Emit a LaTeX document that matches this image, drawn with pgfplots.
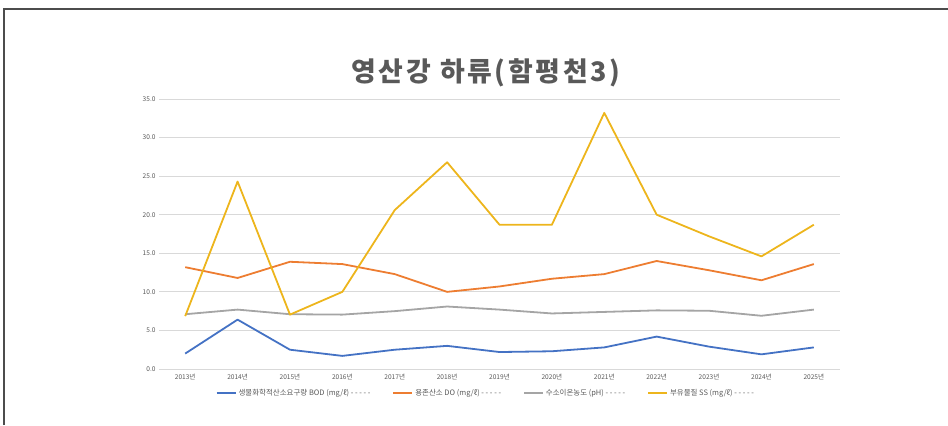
\documentclass[border=0pt]{standalone}
\usepackage{fontspec}
\setmainfont{Noto Sans CJK KR}
\usepackage{pgfplots}
\pgfplotsset{compat=1.18}
\definecolor{cBOD}{HTML}{4472C4}
\definecolor{cDO}{HTML}{ED7D31}
\definecolor{cPH}{HTML}{A5A5A5}
\definecolor{cSS}{HTML}{EDB51C}
\definecolor{titlegray}{HTML}{595959}
\definecolor{labelgray}{HTML}{595959}
\definecolor{gridgray}{HTML}{D9D9D9}
\begin{document}
\begin{tikzpicture}[x=1bp,y=1bp]
\path[use as bounding box] (0,0) rectangle (948,425);
\draw[line width=1.4bp, color=black!70] (4,0) -- (4,416) -- (948,416);
\node[font=\fontsize{27}{31}\selectfont\bfseries\addfontfeature{LetterSpace=10}, text=titlegray] at (486,352) {영산강 하류(함평천3)};
\begin{axis}[
  at={(159bp,56bp)}, anchor=south west,
  scale only axis, width=681bp, height=270bp,
  xmin=-0.5, xmax=12.5, ymin=0, ymax=35,
  ytick={0,5,10,15,20,25,30,35},
  xtick={0,...,12},
  xticklabels={2013년,2014년,2015년,2016년,2017년,2018년,2019년,2020년,2021년,2022년,2023년,2024년,2025년},
  axis line style={draw=none},
  tick style={draw=none},
  ymajorgrids,
  grid style={line width=0.8bp, color=gridgray},
  tick label style={font=\fontsize{6.6}{7.5}\selectfont, text=labelgray},
  yticklabel style={/pgf/number format/.cd, fixed, fixed zerofill, precision=1, assume math mode=true},
  xticklabel style={yshift=-2bp},
  legend columns=4,
  legend style={at={(0.48,-0.089)}, anchor=center, draw=none, fill=none,
    font=\fontsize{7.5}{8.5}\selectfont, text=labelgray,
    /tikz/every even column/.append style={column sep=20bp}},
  legend image code/.code={\draw[#1] (0bp,0bp) -- (19bp,0bp);},
  every axis plot/.append style={line width=1.8bp, line join=round},
]
\addplot[color=cBOD, mark=none] coordinates {
(0,2.0) (1,6.4) (2,2.5) (3,1.7) (4,2.5) (5,3.0) (6,2.2) (7,2.3) (8,2.8) (9,4.2) (10,2.9) (11,1.9) (12,2.8)};
\addlegendentry{생물화학적산소요구량 BOD (mg/ℓ) - - - - -}
\addplot[color=cDO, mark=none] coordinates {
(0,13.2) (1,11.8) (2,13.9) (3,13.6) (4,12.3) (5,10.0) (6,10.7) (7,11.7) (8,12.3) (9,14.0) (10,12.8) (11,11.5) (12,13.6)};
\addlegendentry{용존산소 DO (mg/ℓ) - - - - -}
\addplot[color=cPH, mark=none] coordinates {
(0,7.1) (1,7.7) (2,7.1) (3,7.05) (4,7.5) (5,8.1) (6,7.7) (7,7.2) (8,7.4) (9,7.6) (10,7.55) (11,6.9) (12,7.7)};
\addlegendentry{수소이온농도 (pH) - - - - -}
\addplot[color=cSS, mark=none] coordinates {
(0,6.85) (1,24.3) (2,7.05) (3,10.0) (4,20.6) (5,26.8) (6,18.7) (7,18.7) (8,33.2) (9,20.0) (10,17.2) (11,14.6) (12,18.7)};
\addlegendentry{부유물질 SS (mg/ℓ) - - - - -}
\end{axis}
\end{tikzpicture}
\end{document}
